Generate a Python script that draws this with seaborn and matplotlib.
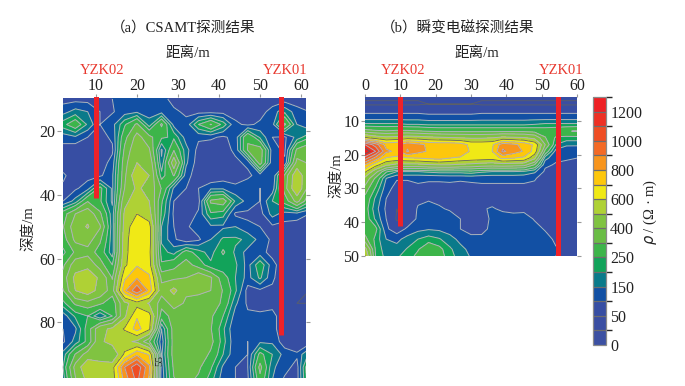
#!/usr/bin/env python3
# -*- coding: utf-8 -*-
import matplotlib
matplotlib.use('agg')
import matplotlib.pyplot as plt
from matplotlib.colors import BoundaryNorm, ListedColormap
import seaborn as sns

FONT = ['Liberation Serif', 'Noto Sans CJK SC']

LEVELS = [0, 25, 50, 100, 150, 200, 250, 325, 400, 500, 600, 700, 800, 900, 1000, 1100, 1200, 1300]
CB_TICKS = [0, 50, 150, 250, 400, 600, 800, 1000, 1200]
COLORS = ['#3c50a2', '#3a4ea2', '#374ea3', '#1250a4', '#0a7a8a', '#12a35a', '#3db54a', '#6abd45',
          '#80c341', '#afd135', '#f0e916', '#fdc70c', '#f8951d', '#f36a26', '#ef4d23', '#ed3024', '#ee2024']

A_X = [2, 5, 8, 11, 14, 17, 20, 23, 26, 29, 32, 35, 38, 41, 44, 47, 50, 53, 56, 59, 62]
A_Y = [10, 14, 18, 22, 26, 30, 34, 38, 42, 46, 50, 54, 58, 62, 66, 70, 74, 78, 82, 86, 90, 94, 98]
A_RHO = [
    [80, 80, 80, 80, 100, 125, 130, 130, 120, 80, 70, 70, 70, 70, 70, 70, 80, 70, 70, 70, 70],
    [130, 170, 150, 100, 95, 125, 140, 130, 130, 110, 90, 80, 80, 80, 80, 90, 80, 120, 190, 120, 100],
    [230, 300, 190, 100, 130, 240, 340, 170, 340, 130, 115, 250, 330, 230, 110, 90, 110, 130, 340, 150, 100],
    [120, 140, 100, 80, 110, 300, 430, 350, 260, 240, 125, 110, 110, 90, 120, 320, 190, 100, 90, 170, 240],
    [80, 60, 90, 90, 90, 340, 470, 410, 140, 320, 170, 80, 60, 80, 110, 330, 370, 120, 90, 340, 400],
    [70, 80, 80, 70, 120, 370, 500, 470, 160, 460, 160, 70, 60, 60, 90, 110, 360, 110, 110, 430, 390],
    [110, 70, 80, 90, 140, 380, 590, 500, 220, 330, 120, 70, 50, 70, 80, 90, 120, 100, 340, 590, 380],
    [90, 90, 130, 270, 140, 400, 520, 460, 320, 140, 100, 100, 140, 140, 110, 130, 100, 120, 360, 600, 350],
    [100, 170, 320, 260, 140, 470, 560, 500, 260, 100, 70, 80, 340, 370, 190, 130, 100, 200, 280, 430, 260],
    [290, 400, 460, 340, 170, 520, 600, 540, 240, 90, 60, 110, 240, 220, 90, 90, 80, 170, 130, 130, 100],
    [320, 450, 510, 410, 170, 540, 680, 640, 200, 100, 90, 130, 140, 140, 150, 110, 100, 90, 80, 70, 60],
    [290, 420, 440, 340, 170, 560, 690, 650, 190, 110, 60, 90, 150, 210, 210, 190, 130, 90, 70, 60, 60],
    [230, 340, 370, 290, 170, 570, 680, 630, 220, 180, 280, 220, 180, 260, 190, 130, 120, 80, 60, 60, 60],
    [310, 450, 470, 360, 250, 580, 690, 640, 260, 300, 360, 290, 210, 210, 210, 130, 240, 120, 60, 60, 60],
    [350, 530, 570, 480, 320, 680, 790, 720, 380, 380, 400, 470, 410, 280, 200, 130, 210, 110, 60, 60, 60],
    [320, 500, 560, 460, 360, 780, 980, 770, 430, 530, 410, 410, 400, 320, 210, 80, 90, 90, 70, 60, 50],
    [230, 340, 370, 340, 280, 470, 560, 490, 360, 430, 390, 380, 370, 310, 160, 90, 80, 90, 70, 50, 50],
    [120, 210, 250, 150, 250, 480, 690, 640, 280, 360, 350, 350, 340, 250, 125, 110, 110, 110, 80, 90, 90],
    [100, 140, 280, 470, 520, 610, 740, 620, 150, 360, 370, 350, 330, 210, 100, 110, 130, 120, 60, 60, 80],
    [90, 170, 270, 480, 540, 530, 480, 330, 120, 360, 390, 370, 350, 220, 110, 100, 140, 140, 70, 50, 70],
    [170, 330, 440, 440, 400, 620, 780, 690, 140, 360, 400, 380, 310, 200, 110, 100, 270, 200, 130, 110, 210],
    [200, 430, 590, 550, 560, 900, 1080, 820, 120, 340, 380, 340, 260, 140, 100, 100, 350, 160, 120, 80, 320],
    [170, 390, 530, 510, 540, 840, 1030, 780, 110, 320, 350, 310, 220, 120, 100, 90, 300, 150, 90, 80, 300],
]

B_X = [0, 3, 6, 9, 12, 15, 18, 21, 24, 27, 30, 33, 36, 39, 42, 45, 48, 51, 54, 57, 60]
B_Y = [2, 5, 7, 9, 11, 13, 15, 17, 19, 21, 23, 25, 27, 30, 33, 36, 39, 42, 45, 48, 50]
B_RHO = [
    [60, 60, 60, 60, 60, 60, 60, 60, 60, 60, 60, 60, 60, 60, 60, 60, 60, 60, 60, 60, 60],
    [45, 45, 45, 45, 45, 45, 50, 50, 50, 50, 50, 45, 45, 45, 45, 45, 45, 45, 45, 45, 45],
    [85, 85, 85, 85, 85, 85, 80, 80, 80, 80, 80, 85, 85, 85, 85, 85, 85, 85, 85, 85, 85],
    [125, 125, 125, 125, 125, 125, 120, 120, 120, 120, 120, 125, 125, 125, 125, 125, 125, 125, 125, 125, 125],
    [210, 210, 210, 210, 200, 200, 190, 190, 190, 190, 190, 190, 190, 190, 190, 190, 200, 210, 210, 210, 210],
    [360, 340, 330, 340, 340, 330, 320, 310, 310, 310, 310, 310, 310, 310, 310, 310, 300, 290, 300, 320, 330],
    [620, 560, 530, 540, 560, 550, 530, 520, 510, 500, 490, 490, 500, 530, 520, 510, 470, 330, 240, 230, 230],
    [1100, 950, 760, 780, 880, 830, 780, 770, 770, 750, 670, 670, 680, 860, 820, 770, 680, 400, 200, 160, 160],
    [1290, 1100, 820, 780, 910, 830, 790, 780, 770, 790, 680, 680, 700, 920, 850, 790, 660, 300, 130, 110, 105],
    [1050, 860, 690, 670, 690, 700, 720, 740, 700, 680, 660, 650, 640, 720, 700, 680, 520, 170, 110, 105, 100],
    [800, 640, 520, 470, 470, 470, 490, 500, 500, 480, 470, 450, 440, 450, 440, 430, 320, 110, 95, 90, 90],
    [620, 430, 260, 200, 200, 200, 210, 220, 220, 220, 230, 210, 200, 200, 200, 190, 160, 90, 70, 70, 80],
    [470, 310, 150, 105, 105, 105, 105, 105, 110, 110, 110, 110, 110, 110, 110, 110, 105, 75, 60, 60, 75],
    [370, 240, 120, 80, 80, 95, 90, 90, 85, 75, 85, 90, 90, 90, 90, 90, 85, 75, 50, 55, 75],
    [300, 190, 100, 60, 60, 90, 95, 90, 85, 85, 75, 85, 80, 85, 90, 90, 90, 85, 75, 75, 85],
    [280, 170, 90, 50, 60, 105, 115, 105, 95, 95, 90, 95, 105, 90, 85, 85, 85, 85, 85, 85, 85],
    [290, 190, 100, 45, 60, 110, 120, 120, 120, 100, 75, 65, 115, 125, 120, 125, 95, 85, 85, 85, 85],
    [290, 270, 110, 70, 110, 135, 145, 140, 125, 100, 75, 70, 125, 130, 135, 125, 120, 95, 85, 85, 85],
    [350, 230, 150, 135, 170, 200, 225, 205, 170, 135, 120, 125, 130, 130, 130, 125, 125, 120, 90, 85, 90],
    [540, 240, 170, 170, 205, 245, 300, 270, 210, 165, 135, 130, 130, 130, 130, 125, 120, 115, 105, 90, 90],
    [610, 250, 180, 190, 225, 265, 300, 280, 220, 175, 145, 130, 130, 130, 130, 130, 120, 110, 100, 90, 90],
]

A_HOLE_X = [10, 55]
A_HOLE_DEPTH = [41, 84]
B_HOLE_X = [10, 54.5]
B_HOLE_DEPTH = [41, 50]
HOLE_NAMES = ['YZK02', 'YZK01']


def px_axes(fig, left, top, right, bottom):
    w, h = fig.get_size_inches() * fig.dpi
    return fig.add_axes([left / w, 1 - bottom / h, (right - left) / w, (bottom - top) / h])


def section(ax, x, y, rho, hole_x, hole_depth, cmap, norm):
    ax.contourf(x, y, rho, levels=LEVELS, colors=COLORS)
    ax.contour(x, y, rho, levels=[25, 100, 150, 200, 250, 325, 400, 500, 700, 800, 900, 1000, 1100],
               colors='#aeb3bc', linewidths=0.7)
    ax.contour(x, y, rho, levels=[50, 600, 1200], colors='#5d6066', linewidths=0.6)
    for hx, depth in zip(hole_x, hole_depth):
        ax.plot([hx, hx], [0, depth], color='#ee2229', lw=3.6, solid_capstyle='butt', zorder=5)
    ax.xaxis.tick_top()
    ax.tick_params(axis='x', direction='out', length=2, width=0.8, color='#9a9a9a', labelsize=11.5, pad=0)
    ax.tick_params(axis='y', direction='out', length=3, width=0.8, color='#9a9a9a', labelsize=11.5, pad=1,
                   right=True)
    sns.despine(ax=ax, left=True, right=True, top=True, bottom=True)


sns.set_theme(style='ticks')
plt.rcParams['font.family'] = FONT
plt.rcParams['axes.unicode_minus'] = False
plt.rcParams['text.color'] = '#222222'
plt.rcParams['xtick.labelcolor'] = '#222222'
plt.rcParams['ytick.labelcolor'] = '#222222'

cmap = ListedColormap(sns.color_palette(COLORS))
norm = BoundaryNorm(LEVELS, cmap.N)

fig = plt.figure(figsize=(6.85, 3.86), dpi=100)

ax_a = px_axes(fig, 61, 97, 306, 378)
section(ax_a, A_X, A_Y, A_RHO, A_HOLE_X, A_HOLE_DEPTH, cmap, norm)
ax_a.set_xlim(1.5, 61.2)
ax_a.set_ylim(97.4, 9.4)
ax_a.set_xticks([10, 20, 30, 40, 50, 60])
ax_a.set_yticks([20, 40, 60, 80])
ax_a.text(25.5, 92, '55', fontsize=8, color='#222222', rotation=90, ha='center', va='center')

ax_b = px_axes(fig, 365, 97, 577, 256)
section(ax_b, B_X, B_Y, B_RHO, B_HOLE_X, B_HOLE_DEPTH, cmap, norm)
ax_b.set_xlim(0, 60)
ax_b.set_ylim(50, 2.9)
ax_b.set_xticks([0, 10, 20, 30, 40, 50, 60])
ax_b.set_yticks([10, 20, 30, 40, 50])

W, H = 685, 386
fig.text(183 / W, 1 - 28 / H, '（a）CSAMT探测结果', fontsize=10.5, ha='center', va='center')
fig.text(458 / W, 1 - 28 / H, '（b）瞬变电磁探测结果', fontsize=10.5, ha='center', va='center')
fig.text(188 / W, 1 - 53 / H, '距离/m', fontsize=10.5, ha='center', va='center')
fig.text(477 / W, 1 - 53 / H, '距离/m', fontsize=10.5, ha='center', va='center')
fig.text(28 / W, 1 - 229 / H, '深度/m', fontsize=10.5, rotation=90, ha='center', va='center')
fig.text(336 / W, 1 - 176 / H, '深度/m', fontsize=10.5, rotation=90, ha='center', va='center')
for px, name in zip([102, 285], HOLE_NAMES):
    fig.text(px / W, 1 - 70 / H, name, fontsize=10.5, color='#e8392f', ha='center', va='center')
for px, name in zip([403, 561], HOLE_NAMES):
    fig.text(px / W, 1 - 70 / H, name, fontsize=10.5, color='#e8392f', ha='center', va='center')

cax = px_axes(fig, 593, 97, 606, 345)
cb = fig.colorbar(plt.cm.ScalarMappable(norm=norm, cmap=cmap), cax=cax, spacing='uniform',
                  ticks=CB_TICKS, drawedges=True)
cb.dividers.set_color('#6d6d6d')
cb.dividers.set_linewidth(0.9)
cb.outline.set_edgecolor('#8a8a8a')
cb.outline.set_linewidth(0.9)
cb.ax.tick_params(length=0, labelsize=11.5, pad=3)
fig.text(650 / W, 1 - 212 / H, r'$\rho$ / (Ω · m)', fontsize=10.5, rotation=90, ha='center', va='center')

fig.savefig('out.png', dpi=100)
